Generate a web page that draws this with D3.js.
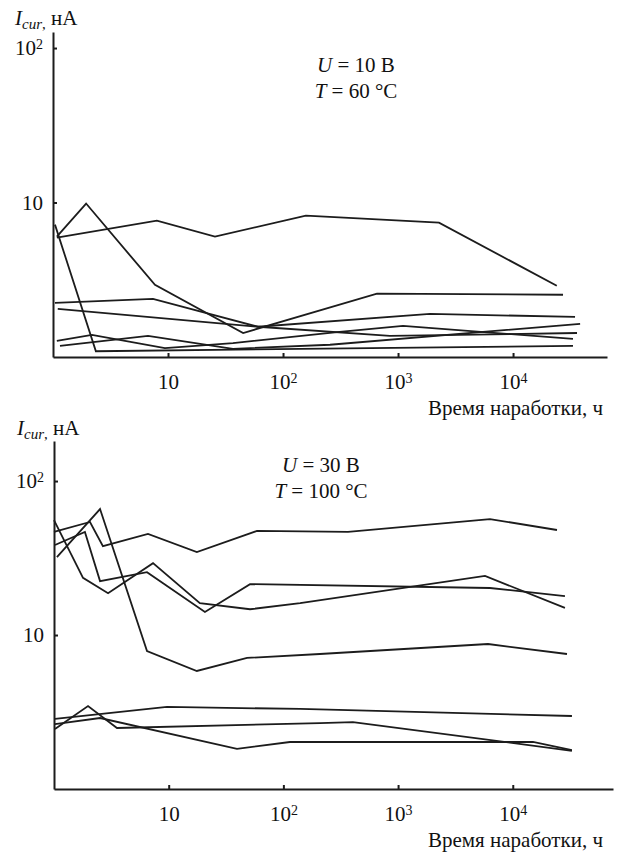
<!DOCTYPE html>
<html>
<head>
<meta charset="utf-8">
<script src="https://cdn.jsdelivr.net/npm/d3@7"></script>
<style>
  body { margin: 0; background: #fff; }
  svg text { font-family: "Liberation Serif", "Times New Roman", "DejaVu Serif", serif !important; fill: #111; }
</style>
</head>
<body>
<svg id="chart"></svg>
<script>
// hours of operation and current (nA) for each curve
const p1Hours = [
  [1.08, 8.0, 25.6, 158, 2270, 24000],
  [1.08, 1.94, 7.7, 45, 656, 27200],
  [1.04, 2.36, 33200],
  [1.04, 7.4, 60.6, 1900, 34600],
  [1.1, 60.6, 850, 36000],
  [1.08, 2.18, 9.4, 36.7, 295, 1105, 33200],
  [1.15, 6.7, 36.7, 256, 38300]
]
const p1Current = [
  [5.93, 7.64, 6.01, 8.23, 7.41, 2.89],
  [6.01, 9.85, 2.93, 1.43, 2.57, 2.53],
  [7.19, 1.09, 1.18],
  [2.24, 2.38, 1.57, 1.90, 1.82],
  [2.05, 1.57, 1.37, 1.43],
  [1.27, 1.39, 1.14, 1.23, 1.45, 1.59, 1.31],
  [1.18, 1.37, 1.13, 1.20, 1.64]
]

const p2Hours = [
  [1.0, 2.06, 2.67, 6.6, 17.6, 58.9, 366, 6330, 24300],
  [1.02, 1.86, 2.52, 6.47, 20.7, 51.2, 6330, 28500],
  [1.06, 2.52, 6.47, 17.6, 48.2, 208, 6083, 29700],
  [1.0, 1.79, 2.96, 7.3, 18.7, 51.2, 140, 5727, 28500],
  [1.02, 1.98, 3.54, 208, 404, 32800],
  [1.02, 9.67, 140, 32800],
  [1.02, 2.52, 39.4, 114, 15000, 32800]
]
const p2Current = [
  [46.7, 54.2, 37.8, 45.3, 34.6, 47.4, 46.7, 56.6, 48.1],
  [38.4, 46.7, 22.4, 25.6, 14.1, 21.4, 20.2, 17.9],
  [32.1, 65.8, 7.87, 5.84, 7.10, 7.53, 8.74, 7.53],
  [55.8, 23.5, 18.7, 29.3, 16.1, 14.7, 16.1, 24.2, 15.0],
  [2.45, 3.46, 2.49, 2.68, 2.72, 1.77],
  [2.85, 3.41, 3.31, 2.98],
  [2.64, 2.89, 1.82, 2.02, 2.02, 1.79]
]

const xTicks = [10, 100, 1000, 10000]
const yTicks = [10, 100]
const p1Conditions = ['10 В', '60 °C']
const p2Conditions = ['30 В', '100 °C']
const xTitle = 'Время наработки, ч'

const serif = '"Liberation Serif", "Times New Roman", serif'
const ink = '#1c1c1c'

const svg = d3.select('#chart')
  .attr('width', 617)
  .attr('height', 854)

// "10", "10²" ... with the exponent raised
const powerLabel = (sel, v) => {
  const p = Math.round(Math.log10(v))
  sel.text(null)
  sel.append('tspan').text('10')
  if (p > 1) {
    sel.append('tspan')
      .attr('dy', '-0.45em')
      .attr('font-size', '14px')
      .text(p)
  }
}

const drawPanel = (cfg) => {
  const x = d3.scaleLog().domain([1, cfg.xMax]).range(cfg.xRange)
  const y = d3.scaleLog().domain([1, cfg.yMax]).range(cfg.yRange)
  const g = svg.append('g')

  const xAxis = g.append('g')
    .attr('transform', `translate(0, ${cfg.yRange[0]})`)
    .call(d3.axisBottom(x).tickValues(xTicks).tickSize(-4).tickSizeOuter(0).tickPadding(17))
  const yAxis = g.append('g')
    .attr('transform', `translate(${cfg.xRange[0]}, 0)`)
    .call(d3.axisLeft(y).tickValues(yTicks).tickSize(-4).tickSizeOuter(0).tickPadding(10))

  ;[xAxis, yAxis].forEach(a => {
    a.attr('font-family', serif).attr('font-size', 21)
    a.select('.domain').attr('stroke', ink).attr('stroke-width', 2)
    a.selectAll('.tick line').attr('stroke', ink).attr('stroke-width', 2)
    a.selectAll('.tick text')
      .attr('fill', '#111')
      .each(function(d) { powerLabel(d3.select(this), d) })
  })

  const line = d3.line()
    .x(d => x(d[0]))
    .y(d => y(d[1]))

  g.selectAll('path.curve')
    .data(cfg.hours.map((h, i) => h.map((t, j) => [t, cfg.current[i][j]])))
    .join('path')
    .classed('curve', true)
    .attr('d', line)
    .attr('fill', 'none')
    .attr('stroke', ink)
    .attr('stroke-width', 1.8)

  // axis title on the left top
  const yl = g.append('text')
    .attr('x', cfg.yLabel[0])
    .attr('y', cfg.yLabel[1])
    .attr('font-family', serif)
    .attr('font-size', '21px')
  yl.append('tspan').attr('font-style', 'italic').text('I')
  yl.append('tspan').attr('font-style', 'italic').attr('font-size', '15px').attr('dy', 4).text('cur')
  yl.append('tspan').attr('font-size', '15px').text(',')
  yl.append('tspan').attr('dy', -4).text(' нА')

  g.append('text')
    .attr('x', 603)
    .attr('y', cfg.yRange[0] + 58)
    .attr('text-anchor', 'end')
    .attr('font-family', serif)
    .attr('font-size', '21px')
    .text(xTitle)

  const cond = g.append('g')
  ;['U', 'T'].forEach((sym, i) => {
    const t = cond.append('text')
      .attr('x', cfg.note[0])
      .attr('y', cfg.note[1] + i * 26)
      .attr('text-anchor', 'middle')
      .attr('font-family', serif)
      .attr('font-size', '21px')
    t.append('tspan').attr('font-style', 'italic').text(sym)
    t.append('tspan').text(' = ' + cfg.conditions[i])
  })
}

drawPanel({
  hours: p1Hours, current: p1Current, conditions: p1Conditions,
  xMax: 65600, xRange: [53, 607],
  yMax: 127, yRange: [357, 32],
  yLabel: [15, 25], note: [356, 72]
})

drawPanel({
  hours: p2Hours, current: p2Current, conditions: p2Conditions,
  xMax: 74800, xRange: [54, 613],
  yMax: 182, yRange: [789, 441],
  yLabel: [17, 435], note: [321, 472]
})
</script>
</body>
</html>
